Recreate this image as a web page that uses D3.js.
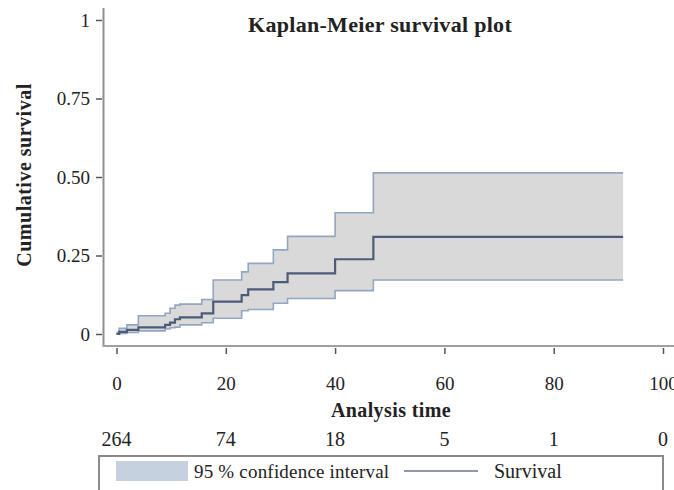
<!DOCTYPE html>
<html>
<head>
<meta charset="utf-8">
<script src="https://cdn.jsdelivr.net/npm/d3@7"></script>
<style>
  html, body { margin: 0; padding: 0; background: #fff; }
  svg { display: block; }
  text { font-family: "Liberation Serif", "Times New Roman", serif; fill: #222; }
</style>
</head>
<body>
<svg id="chart" width="674" height="490"></svg>
<script>
// Step times (analysis time) at which the estimate changes
const stepTimes = [0, 0.5, 1.9, 4.0, 8.9, 9.8, 10.7, 11.6, 15.6, 17.7, 22.9, 24.1, 28.7, 31.3, 40.0, 47.0];
// Cumulative survival estimate after each step
const survival  = [0, 0.007, 0.013, 0.021, 0.029, 0.036, 0.047, 0.053, 0.066, 0.103, 0.124, 0.142, 0.165, 0.193, 0.238, 0.309];
// 95 % confidence limits after each step
const upperCI   = [0.005, 0.018, 0.029, 0.058, 0.066, 0.082, 0.092, 0.095, 0.110, 0.172, 0.198, 0.225, 0.268, 0.311, 0.386, 0.513];
const lowerCI   = [0, 0.002, 0.005, 0.010, 0.016, 0.020, 0.022, 0.029, 0.036, 0.050, 0.074, 0.078, 0.098, 0.113, 0.138, 0.172];
// Last follow-up time
const endTime = 92.7;

// Axis ticks and numbers at risk
const xTicks = [0, 20, 40, 60, 80, 100];
const yTicks = [0, 0.25, 0.5, 0.75, 1];
const yTickLabels = ["0", "0.25", "0.50", "0.75", "1"];
const atRisk = [264, 74, 18, 5, 1, 0];

const svg = d3.select("#chart");

const x = d3.scaleLinear().domain([0, 100]).range([116.5, 663]);
const y = d3.scaleLinear().domain([0, 1]).range([334, 20]);

// Build step series, extended to the last follow-up time
const rows = stepTimes.map((t, i) => ({ t, s: survival[i], lo: lowerCI[i], hi: upperCI[i] }));
const last = rows[rows.length - 1];
rows.push({ t: endTime, s: last.s, lo: last.lo, hi: last.hi });

// Confidence band
svg.append("path")
  .datum(rows)
  .attr("fill", "#d9d9da")
  .attr("d", d3.area()
    .curve(d3.curveStepAfter)
    .x(d => x(d.t))
    .y0(d => y(d.lo))
    .y1(d => y(d.hi)));

const stepLine = key => d3.line().curve(d3.curveStepAfter).x(d => x(d.t)).y(d => y(d[key]));

svg.append("path").datum(rows)
  .attr("fill", "none").attr("stroke", "#93a6c0").attr("stroke-width", 1.6)
  .attr("d", stepLine("hi"));
svg.append("path").datum(rows)
  .attr("fill", "none").attr("stroke", "#93a6c0").attr("stroke-width", 1.6)
  .attr("d", stepLine("lo"));

// Survival estimate
svg.append("path").datum(rows)
  .attr("fill", "none").attr("stroke", "#4d5b7a").attr("stroke-width", 2.2)
  .attr("d", stepLine("s"));

// Axis lines
svg.append("line")
  .attr("x1", 103.5).attr("x2", 103.5).attr("y1", 8).attr("y2", 347)
  .attr("stroke", "#8e8e8e").attr("stroke-width", 2);
svg.append("line")
  .attr("x1", 103).attr("x2", 674).attr("y1", 346).attr("y2", 346)
  .attr("stroke", "#a0a0a0").attr("stroke-width", 2);

// Y axis
const yAxis = svg.append("g")
  .attr("transform", "translate(102,0)")
  .call(d3.axisLeft(y)
    .tickValues(yTicks)
    .tickSize(6)
    .tickPadding(6)
    .tickFormat((d, i) => yTickLabels[i]));
yAxis.select(".domain").remove();
yAxis.selectAll(".tick line").attr("stroke", "#555").attr("stroke-width", 1.5);
yAxis.selectAll(".tick text")
  .attr("font-size", 19).attr("fill", "#222")
  .style("font-family", "'Liberation Serif', serif");

// X axis
const xAxis = svg.append("g")
  .attr("transform", "translate(0,348)")
  .call(d3.axisBottom(x)
    .tickValues(xTicks)
    .tickSize(6)
    .tickPadding(23)
    .tickFormat(d3.format("d")));
xAxis.select(".domain").remove();
xAxis.selectAll(".tick line").attr("stroke", "#555").attr("stroke-width", 1.5);
xAxis.selectAll(".tick text")
  .attr("font-size", 19).attr("fill", "#222")
  .style("font-family", "'Liberation Serif', serif");

// Titles
svg.append("text")
  .attr("x", 380).attr("y", 32)
  .attr("text-anchor", "middle")
  .attr("font-size", 22).attr("font-weight", "bold")
  .attr("letter-spacing", 0.3)
  .text("Kaplan-Meier survival plot");

svg.append("text")
  .attr("x", 391).attr("y", 417)
  .attr("text-anchor", "middle")
  .attr("font-size", 20).attr("font-weight", "bold")
  .attr("letter-spacing", 0.4)
  .text("Analysis time");

svg.append("text")
  .attr("transform", "translate(31,175) rotate(-90)")
  .attr("text-anchor", "middle")
  .attr("font-size", 20).attr("font-weight", "bold")
  .attr("letter-spacing", 0.5)
  .text("Cumulative survival");

// Numbers at risk
svg.append("g").selectAll("text")
  .data(atRisk)
  .join("text")
  .attr("x", (d, i) => x(xTicks[i]))
  .attr("y", 446)
  .attr("text-anchor", "middle")
  .attr("font-size", 20)
  .text(d => d);

// Legend
const legend = svg.append("g");
legend.append("rect")
  .attr("x", 99).attr("y", 456).attr("width", 564).attr("height", 50)
  .attr("fill", "#fff").attr("stroke", "#8a8a8a").attr("stroke-width", 2);
legend.append("rect")
  .attr("x", 116).attr("y", 461).attr("width", 72).attr("height", 20)
  .attr("fill", "#c6d1df");
legend.append("text")
  .attr("x", 194).attr("y", 478)
  .attr("font-size", 19)
  .attr("letter-spacing", 0.2)
  .text("95 % confidence interval");
legend.append("line")
  .attr("x1", 404).attr("x2", 478).attr("y1", 471).attr("y2", 471)
  .attr("stroke", "#6b7591").attr("stroke-width", 1.5);
legend.append("text")
  .attr("x", 494).attr("y", 478)
  .attr("font-size", 20)
  .text("Survival");
</script>
</body>
</html>
